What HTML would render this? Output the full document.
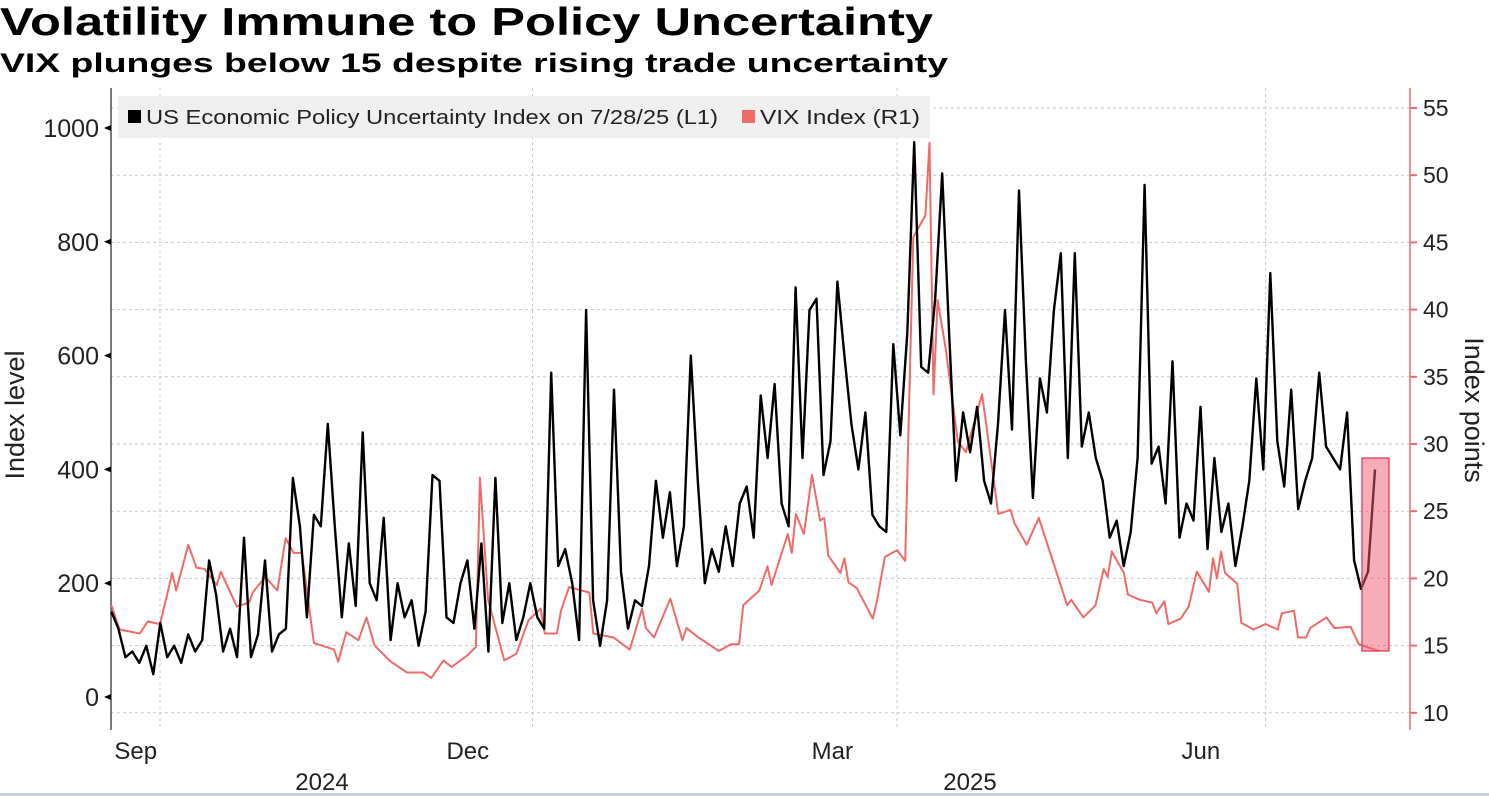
<!DOCTYPE html>
<html><head><meta charset="utf-8"><style>
html,body{margin:0;padding:0;background:#fff;}
svg{display:block;font-family:"Liberation Sans",Arial,sans-serif;}
</style></head><body>
<svg id="chart" width="1489" height="796" viewBox="0 0 1489 796">
<text x="0" y="35" font-size="39" font-weight="bold" fill="#000" textLength="933" lengthAdjust="spacingAndGlyphs">Volatility Immune to Policy Uncertainty</text>
<text x="0" y="72" font-size="27" font-weight="bold" fill="#000" textLength="948" lengthAdjust="spacingAndGlyphs">VIX plunges below 15 despite rising trade uncertainty</text>
<g id="grid"></g>
<g id="axes"></g>
<rect x="118" y="96" width="812" height="42" fill="#efefef"/>
<g>
<rect x="128" y="110" width="13" height="13" fill="#000"/>
<text x="146" y="124" font-size="20" fill="#222" textLength="572" lengthAdjust="spacingAndGlyphs">US Economic Policy Uncertainty Index on 7/28/25 (L1)</text>
</g>
<g>
<rect x="742" y="110" width="13" height="13" fill="#f06a6a"/>
<text x="760" y="124" font-size="20" fill="#222" textLength="160" lengthAdjust="spacingAndGlyphs">VIX Index (R1)</text>
</g>
<g id="series"></g>
<text transform="translate(24,415) rotate(-90)" text-anchor="middle" font-size="27" fill="#222">Index level</text>
<text transform="translate(1465,410) rotate(90)" text-anchor="middle" font-size="27" fill="#222">Index points</text>
<rect x="0" y="793" width="1489" height="3" fill="#c8d0d8"/>
</svg>
<script>
const epuStartDay = -12;
const epuEndDay = 300;
const epuValues = [150,120,70,80,60,90,40,130,70,90, 60,110,80,100,240,180,80,120,70,280, 70,110,240,80,110,120,385,300,140,320, 300,480,300,140,270,160,465,200,170,315, 100,200,140,170,90,150,390,380,140,130, 200,240,120,270,80,385,130,200,100,140,
200,140,120,570,230,260,200,100,680,170,90,170,540,220,120,170,160,230,380,280,360,230,300,600,380,200,260,220,300,230,340,370,280,530,420,550,340,300,
720,420,680,700,390,450,730,600,480,400,500,320,300,290,620,460,640,975,580,570,700,920,640,380,500,430,510,380,340,480,680,470,890,590,350,560,500,680,780,420,780,440,500,420,380,280,310,230,290,420,900,410,440,340,590,280,340,310,510,260,420,290,340,230,300,380,560,400,745,450,370,540,330,380,420,570,440,420,400,500,240,190,220,400];
const vixDays = [-12,-10,-5,-3,0,2,3,4,7,9,11,14,15,19,22,23,26,29,31,33,35,37,38,43,44,46,49,51,53,57,61,65,67,70,72,76,78,79,81,85,88,91,94,95,98,99,101,106,107,112,116,119,120,122,126,129,130,133,138,141,143,144,148,150,151,155,156,157,159,161,163,164,165,168,169,170,172,176,177,179,182,184,186,189,190,191,192,194,197,199,203,207,210,211,214,217,224,225,228,231,233,234,235,238,239,242,245,246,248,249,252,254,256,259,260,261,262,263,266,267,270,273,276,277,280,281,283,284,288,290,294,296,299,301];
const vixValues = [18.0,16.2,15.9,16.8,16.6,19.1,20.4,19.1,22.5,20.8,20.7,19.5,20.5,17.9,18.2,19.0,20.1,19.1,23.0,21.9,21.9,17.4,15.2,14.7,13.8,16.0,15.4,17.1,15.0,13.8,13.0,13.0,12.6,13.9,13.4,14.3,14.9,27.5,18.4,13.9,14.4,16.9,17.75,15.9,15.9,17.6,19.35,18.95,15.9,15.6,14.7,17.75,16.3,15.6,18.5,15.4,16.3,15.6,14.6,15.1,15.1,18.0,19.1,20.9,19.5,23.3,21.9,24.8,23.3,27.7,24.3,24.5,21.7,20.4,21.5,19.7,19.3,17.0,18.3,21.6,22.1,21.3,45.4,47.0,52.4,33.7,40.7,37.1,30.2,29.4,33.7,24.8,25.1,24.1,22.5,24.5,18.0,18.4,17.1,18.0,20.7,20.1,22.0,20.4,18.8,18.4,18.2,17.4,18.3,16.6,17.0,17.9,20.5,19.0,21.5,20.0,22.0,20.4,19.6,16.7,16.2,16.6,16.2,17.4,17.6,15.6,15.6,16.3,17.1,16.3,16.4,15.1,14.8,14.6];
const leftTicks = [0,200,400,600,800,1000];
const rightTicks = [10,15,20,25,30,35,40,45,50,55];
const monthLabels = ["Sep","Dec","Mar","Jun"];
const monthLabelDays = [-6,76,166,257];
const quarterGridDays = [0,92,182,273];
const yearLabels = ["2024","2025"];
const yearLabelDays = [40,200];

const xS = d => 160 + d * 4.05;
const yL = v => 697 - v * 0.569;
const yR = v => 108 + (55 - v) * 13.44;
const NS = "http://www.w3.org/2000/svg";
function mk(tag, attrs, parent) {
  const e = document.createElementNS(NS, tag);
  for (const k in attrs) e.setAttribute(k, attrs[k]);
  parent.appendChild(e);
  return e;
}
const grid = document.getElementById('grid');
const axes = document.getElementById('axes');
const series = document.getElementById('series');

rightTicks.forEach(t => {
  const y = yR(t);
  const g = mk('line', {x1:111, x2:1410, y1:y, y2:y, stroke:'#c8c8c8', 'stroke-dasharray':'3,3', 'stroke-width':1}, grid);
  
  
  const tk = mk('line', {x1:1410, x2:1417, y1:y, y2:y, stroke:'#f06a6a', 'stroke-width':2}, axes);
  
  
  const tx = mk('text', {x:1423, y:y+8, 'font-size':23, fill:'#222'}, axes);
  tx.textContent = t;
  
  
});
quarterGridDays.forEach(d => {
  const x = xS(d);
  const g = mk('line', {x1:x, x2:x, y1:88, y2:730, stroke:'#c8c8c8', 'stroke-dasharray':'3,3', 'stroke-width':1}, grid);
  
  
});
const la = mk('line', {x1:111, x2:111, y1:88, y2:730, stroke:'#333', 'stroke-width':1.3}, axes);


const ra = mk('line', {x1:1410, x2:1410, y1:88, y2:730, stroke:'#f06a6a', 'stroke-width':1.5}, axes);


leftTicks.forEach(t => {
  const y = yL(t);
  const tk = mk('polygon', {points:`${104},${y} ${111},${y-3} ${111},${y+3}`, fill:'#000'}, axes);
  
  
  const tx = mk('text', {x:99, y:y+9, 'font-size':25, fill:'#222', 'text-anchor':'end'}, axes);
  tx.textContent = t;
  
  
});
monthLabels.forEach((m, i) => {
  const tx = mk('text', {x:xS(monthLabelDays[i]), y:759, 'font-size':24, fill:'#222', 'text-anchor':'middle'}, axes);
  tx.textContent = m;
  
  
});
yearLabels.forEach((m, i) => {
  const tx = mk('text', {x:xS(yearLabelDays[i]), y:790, 'font-size':24, fill:'#222', 'text-anchor':'middle'}, axes);
  tx.textContent = m;
  
  
});

const n = epuValues.length;
const epuPts = epuValues.map((v, i) => {
  const d = epuStartDay + (epuEndDay - epuStartDay) * i / (n - 1);
  return xS(d).toFixed(1) + ',' + yL(v).toFixed(1);
}).join(' ');
const vixPts = vixValues.map((v, i) => xS(vixDays[i]).toFixed(1) + ',' + yR(v).toFixed(1)).join(' ');

const vl = mk('polyline', {points:vixPts, fill:'none', stroke:'#f06a6a', 'stroke-width':2, 'stroke-linejoin':'round'}, series);


const el = mk('polyline', {points:epuPts, fill:'none', stroke:'#000', 'stroke-width':2.4, 'stroke-linejoin':'round'}, series);



const hb = mk('rect', {x:1362, y:458, width:27, height:193, fill:'rgba(240,90,115,0.5)', stroke:'#e0303f', 'stroke-width':1.2}, series);


</script>
</body></html>
